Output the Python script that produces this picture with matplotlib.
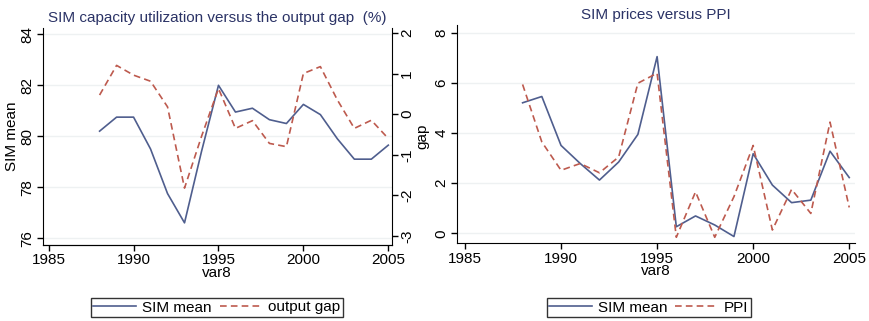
import matplotlib
matplotlib.use('Agg')
import matplotlib.pyplot as plt

plt.rcParams['font.family'] = ['Liberation Sans', 'DejaVu Sans']
plt.rcParams['axes.unicode_minus'] = False

# data
years = list(range(1988, 2006))

# left panel: SIM capacity utilization (left axis) and output gap (right axis)
sim_util = [80.2, 80.75, 80.75, 79.5, 77.75, 76.6, 79.4, 82.0, 80.95, 81.1,
            80.65, 80.5, 81.25, 80.85, 79.9, 79.1, 79.1, 79.65]
output_gap = [0.47, 1.2, 0.96, 0.81, 0.18, -1.82, -0.55, 0.63, -0.35, -0.16,
              -0.72, -0.8, 1.0, 1.17, 0.35, -0.35, -0.15, -0.6]

# right panel: SIM prices and PPI
sim_prices = [5.2, 5.45, 3.5, 2.78, 2.12, 2.84, 3.94, 7.04, 0.26, 0.69,
              0.33, -0.13, 3.17, 1.92, 1.22, 1.32, 3.27, 2.22]
ppi = [5.93, 3.64, 2.51, 2.78, 2.41, 3.04, 5.98, 6.38, -0.16, 1.65,
       -0.16, 1.46, 3.5, 0.13, 1.75, 0.79, 4.43, 1.03]

xticks = [1985, 1990, 1995, 2000, 2005]
left_yticks = [76, 78, 80, 82, 84]
gap_yticks = [-3, -2, -1, 0, 1, 2]
right_yticks = [0, 2, 4, 6, 8]

c_solid = '#4f5e8e'
c_dash = '#bd5a4e'
c_title = '#2b3366'
c_grid = '#eef1f2'
fs = 11

W, H = 869, 321
fig = plt.figure(figsize=(W / 100, H / 100), dpi=100)


def pos(x0, x1, ytop, ybot):
    return [x0 / W, 1 - ybot / H, (x1 - x0) / W, (ybot - ytop) / H]


def style(ax, yt):
    ax.set_xticks(xticks)
    ax.set_yticks(yt)
    ax.tick_params(axis='both', labelsize=fs, length=4, width=1, colors='black', pad=2)
    for lab in ax.get_yticklabels():
        lab.set_rotation(90)
        lab.set_va('center')
    ax.spines['top'].set_visible(False)
    ax.grid(axis='y', color=c_grid, lw=1)
    ax.set_axisbelow(True)
    ax.set_xlabel('var8', fontsize=fs, labelpad=-1)


# ---- left panel
ax1 = fig.add_axes(pos(42.7, 391.7, 28, 245))
ax1.plot(years, sim_util, color=c_solid, lw=1.2, label='SIM mean')
ax1.set_xlim(1984.65, 2005.2)
ax1.set_ylim(75.73, 84.25)
style(ax1, left_yticks)
ax1.spines['right'].set_visible(False)
ax1.set_ylabel('SIM mean', fontsize=fs, labelpad=1)
ax1.set_title('SIM capacity utilization versus the output gap  (%)',
              fontsize=fs, color=c_title, pad=4)

ax2 = ax1.twinx()
ax2.plot(years, output_gap, color=c_dash, lw=1.2, ls=(0, (4, 2.5)), label='output gap')
ax2.set_ylim(-3.22, 2.12)
ax2.set_yticks(gap_yticks)
ax2.tick_params(axis='y', labelsize=fs, length=4, width=1, pad=2)
for lab in ax2.get_yticklabels():
    lab.set_rotation(90)
    lab.set_va('center')
ax2.spines['top'].set_visible(False)
ax2.spines['left'].set_visible(False)
ax2.set_ylabel('gap', fontsize=fs, labelpad=1)

h1, l1 = ax1.get_legend_handles_labels()
h2, l2 = ax2.get_legend_handles_labels()
fig.legend(h1 + h2, l1 + l2, loc='center', bbox_to_anchor=(217 / W, 1 - 307.5 / H),
           ncol=2, fontsize=fs, frameon=True, fancybox=False, edgecolor='black',
           handlelength=2.8, handletextpad=0.4, columnspacing=0.5, borderpad=0.15,
           borderaxespad=0)

# ---- right panel
ax3 = fig.add_axes(pos(456.7, 855, 25, 243.3))
ax3.plot(years, sim_prices, color=c_solid, lw=1.2, label='SIM mean')
ax3.plot(years, ppi, color=c_dash, lw=1.2, ls=(0, (4, 2.5)), label='PPI')
ax3.set_xlim(1984.57, 2005.3)
ax3.set_ylim(-0.4, 8.3)
style(ax3, right_yticks)
ax3.spines['right'].set_visible(False)
ax3.set_title('SIM prices versus PPI', fontsize=fs, color=c_title, pad=4)

h3, l3 = ax3.get_legend_handles_labels()
fig.legend(h3, l3, loc='center', bbox_to_anchor=(648.5 / W, 1 - 307.5 / H),
           ncol=2, fontsize=fs, frameon=True, fancybox=False, edgecolor='black',
           handlelength=2.8, handletextpad=0.4, columnspacing=0.5, borderpad=0.15,
           borderaxespad=0)

fig.savefig('out.png', dpi=100)
